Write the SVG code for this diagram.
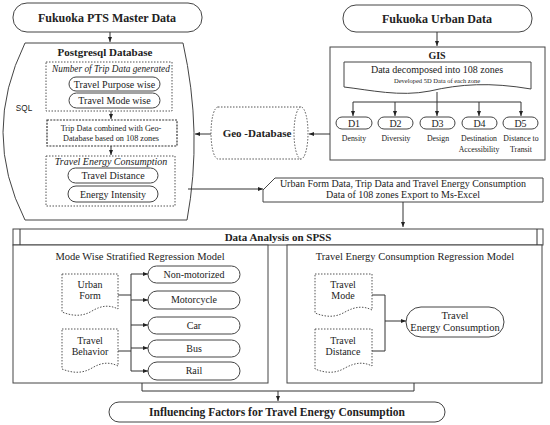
<svg xmlns="http://www.w3.org/2000/svg" width="550" height="425" viewBox="0 0 550 425">
<style>
.s{fill:#fff;stroke:#444;stroke-width:1}
.d{fill:#fff;stroke:#555;stroke-width:1;stroke-dasharray:1.5,1.5}
.dd{fill:#fff;stroke:#333;stroke-width:1.2;stroke-dasharray:2,1.2}
.c{fill:none;stroke:#333;stroke-width:1}
text{font-family:"Liberation Serif","DejaVu Serif",serif;fill:#222;text-anchor:middle}
.b{font-weight:bold}
.t12{font-size:12px}
.t11{font-size:11px}
.t105{font-size:10.5px}
.t10{font-size:10px}
.t9{font-size:9.3px}
.t8{font-size:8.2px}
.t7{font-size:7.8px}
.t6{font-size:6.5px}
.i{font-style:italic}
.sans{font-family:"Liberation Sans",Arial,sans-serif}
</style>
<defs>
<marker id="a" viewBox="0 0 10 10" refX="10" refY="5" markerWidth="5" markerHeight="5" orient="auto"><path d="M0,1 L10,5 L0,9 Z" fill="#222"/></marker>
</defs>

<g id="pts-master">
<rect class="s" x="13" y="3" width="189" height="29" rx="14"/>
<text class="b t12" x="107" y="22">Fukuoka PTS Master Data</text>
</g>

<g id="urban-data">
<rect class="s" x="343" y="5" width="189" height="27" rx="13"/>
<text class="b t12" x="437" y="23">Fukuoka Urban Data</text>
</g>

<g id="postgres">
<path class="s" d="M25,43 H183 Q203,133 187,220 H25 Q-19,133 25,43 Z"/>
<text class="b t11" x="105" y="56">Postgresql Database</text>
<text class="t8 sans" x="24" y="111">SQL</text>
</g>

<g id="trip-generated">
<rect class="d" x="46" y="62" width="126" height="49"/>
<text class="i t9" x="111" y="71.5">Number of Trip Data generated</text>
<rect class="s" x="69" y="77" width="91" height="14" rx="7"/>
<text class="t10" x="114.5" y="87.5">Travel Purpose wise</text>
<rect class="s" x="69" y="93" width="91" height="15" rx="7.5"/>
<text class="t10" x="114.5" y="104">Travel Mode wise</text>
</g>

<g id="trip-combined">
<rect class="dd" x="47" y="120" width="130" height="26"/>
<text class="t8" x="111" y="130.5">Trip Data combined with Geo-</text>
<text class="t8" x="111" y="140.5">Database based on 108 zones</text>
</g>

<g id="energy">
<rect class="d" x="46" y="156" width="129" height="50"/>
<text class="i t10" x="111" y="165">Travel Energy Consumption</text>
<rect class="s" x="68" y="168" width="90" height="15" rx="7.5"/>
<text class="t10" x="113" y="179">Travel Distance</text>
<rect class="s" x="68" y="186" width="90" height="16" rx="8"/>
<text class="t10" x="113" y="197.5">Energy Intensity</text>
</g>

<g id="geo-database">
<path class="d" d="M218,107 H301 A7,26 0 0 1 301,159 H218 A7,26 0 0 1 218,107 Z"/>
<path class="d" d="M301,159 A7,26 0 0 1 301,107" fill="none"/>
<text class="b t11" x="257" y="137">Geo -Database</text>
</g>

<g id="gis">
<rect class="s" x="330" y="47" width="215" height="113"/>
<text class="b t10" x="437" y="59">GIS</text>
<path class="s" d="M344,62 H531 V89 C490,82 460,84 430,91 C400,97 370,90 344,87 Z"/>
<text class="t10" x="437" y="72.5">Data decomposed into 108 zones</text>
<text class="t6" x="437" y="83">Developed 5D Data of each zone</text>
</g>

<g id="d1"><rect class="s" x="336" y="117" width="36" height="12" rx="6"/><text class="t10" x="354" y="126.5">D1</text><text class="t7" x="354" y="141">Density</text></g>
<g id="d2"><rect class="s" x="378" y="117" width="35" height="12" rx="6"/><text class="t10" x="395.5" y="126.5">D2</text><text class="t7" x="396" y="141">Diversity</text></g>
<g id="d3"><rect class="s" x="420" y="117" width="35" height="12" rx="6"/><text class="t10" x="437.5" y="126.5">D3</text><text class="t7" x="438" y="141">Design</text></g>
<g id="d4"><rect class="s" x="462" y="117" width="35" height="12" rx="6"/><text class="t10" x="479.5" y="126.5">D4</text><text class="t7" x="479" y="141">Destination</text><text class="t7" x="479" y="152">Accessibility</text></g>
<g id="d5"><rect class="s" x="503" y="117" width="35" height="12" rx="6"/><text class="t10" x="520.5" y="126.5">D5</text><text class="t7" x="521" y="141">Distance to</text><text class="t7" x="521" y="152">Transit</text></g>

<g id="excel">
<path class="s" d="M275,178 H543 V202 H263 V190 Z"/>
<text class="t10" x="403" y="187">Urban Form Data, Trip Data  and Travel Energy Consumption</text>
<text class="t10" x="403" y="198">Data of 108 zones Export to  Ms-Excel</text>
</g>

<g id="spss">
<rect class="s" x="13" y="229" width="530" height="16"/>
<path class="c" d="M20,229 V245 M537,229 V245"/>
<text class="b t11" x="278" y="241">Data Analysis on SPSS</text>
</g>

<g id="mode-wise">
<rect class="s" x="13" y="245" width="255" height="138"/>
<text class="t105" x="140" y="259.5">Mode Wise Stratified Regression Model</text>
</g>

<g id="urban-form">
<path class="d" d="M62,274 H118 V309 C110,305 102,305 92,311 C82,317 72,316 62,312 Z"/>
<text class="t10" x="90" y="288">Urban</text>
<text class="t10" x="90" y="299">Form</text>
</g>
<g id="travel-behavior">
<path class="d" d="M62,329 H118 V366 C110,362 102,362 92,368 C82,374 72,373 62,369 Z"/>
<text class="t10" x="90" y="344">Travel</text>
<text class="t10" x="90" y="355">Behavior</text>
</g>

<g id="non-motorized"><rect class="s" x="148" y="266" width="92" height="17" rx="8.5"/><text class="t10" x="194" y="277.5">Non-motorized</text></g>
<g id="motorcycle"><rect class="s" x="148" y="291" width="92" height="18" rx="9"/><text class="t10" x="194" y="303">Motorcycle</text></g>
<g id="car"><rect class="s" x="148" y="317" width="92" height="17" rx="8.5"/><text class="t10" x="194" y="328.5">Car</text></g>
<g id="bus"><rect class="s" x="148" y="340" width="92" height="17" rx="8.5"/><text class="t10" x="194" y="351.5">Bus</text></g>
<g id="rail"><rect class="s" x="148" y="362" width="92" height="18" rx="9"/><text class="t10" x="194" y="374">Rail</text></g>

<g id="energy-model">
<rect class="s" x="287" y="245" width="255" height="138"/>
<text class="t105" x="415" y="259.5">Travel Energy Consumption Regression Model</text>
</g>

<g id="travel-mode">
<path class="d" d="M315,274 H372 V310 C364,306 356,306 345,312 C335,318 325,317 315,313 Z"/>
<text class="t10" x="343" y="288">Travel</text>
<text class="t10" x="343" y="299">Mode</text>
</g>
<g id="travel-distance">
<path class="d" d="M315,329 H372 V366 C364,362 356,362 345,368 C335,374 325,373 315,369 Z"/>
<text class="t10" x="343" y="344">Travel</text>
<text class="t10" x="343" y="355">Distance</text>
</g>

<g id="energy-consumption">
<rect class="s" x="406" y="307" width="98" height="30" rx="15"/>
<text class="t105" x="455" y="319">Travel</text>
<text class="t105" x="455" y="330.5">Energy Consumption</text>
</g>

<g id="influencing">
<rect class="s" x="109" y="402" width="336" height="20" rx="10"/>
<text class="b t11" x="277" y="416" style="font-size:11.5px">Influencing Factors for Travel Energy Consumption</text>
</g>

<g id="connectors">
<path class="c" d="M110,32 V42" marker-end="url(#a)"/>
<path class="c" d="M437,32 V46" marker-end="url(#a)"/>
<path class="c" d="M111,111 V119" marker-end="url(#a)"/>
<path class="c" d="M111,146 V155" marker-end="url(#a)"/>
<path class="c" d="M437,92 V102 M353,102 H521"/>
<path class="c" d="M353,102 V116" marker-end="url(#a)"/>
<path class="c" d="M395,102 V116" marker-end="url(#a)"/>
<path class="c" d="M437,102 V116" marker-end="url(#a)"/>
<path class="c" d="M479,102 V116" marker-end="url(#a)"/>
<path class="c" d="M521,102 V116" marker-end="url(#a)"/>
<path class="c" d="M330,134 H309" marker-end="url(#a)"/>
<path class="c" d="M211,134 H195" marker-end="url(#a)"/>
<path class="c" d="M188,189 H263" marker-end="url(#a)"/>
<path class="c" d="M403,202 V227" marker-end="url(#a)"/>
<path class="c" d="M118,295 H131 M118,351 H131 M131,274 V371"/>
<path class="c" d="M131,274 H148" marker-end="url(#a)"/>
<path class="c" d="M131,300 H148" marker-end="url(#a)"/>
<path class="c" d="M131,325 H148" marker-end="url(#a)"/>
<path class="c" d="M131,348 H148" marker-end="url(#a)"/>
<path class="c" d="M131,371 H148" marker-end="url(#a)"/>
<path class="c" d="M372,295 H385 V351 H372"/>
<path class="c" d="M385,321 H406" marker-end="url(#a)"/>
<path class="c" d="M142,383 V391 H414 V383"/>
<path class="c" d="M278,391 V401" marker-end="url(#a)"/>
</g>
</svg>
